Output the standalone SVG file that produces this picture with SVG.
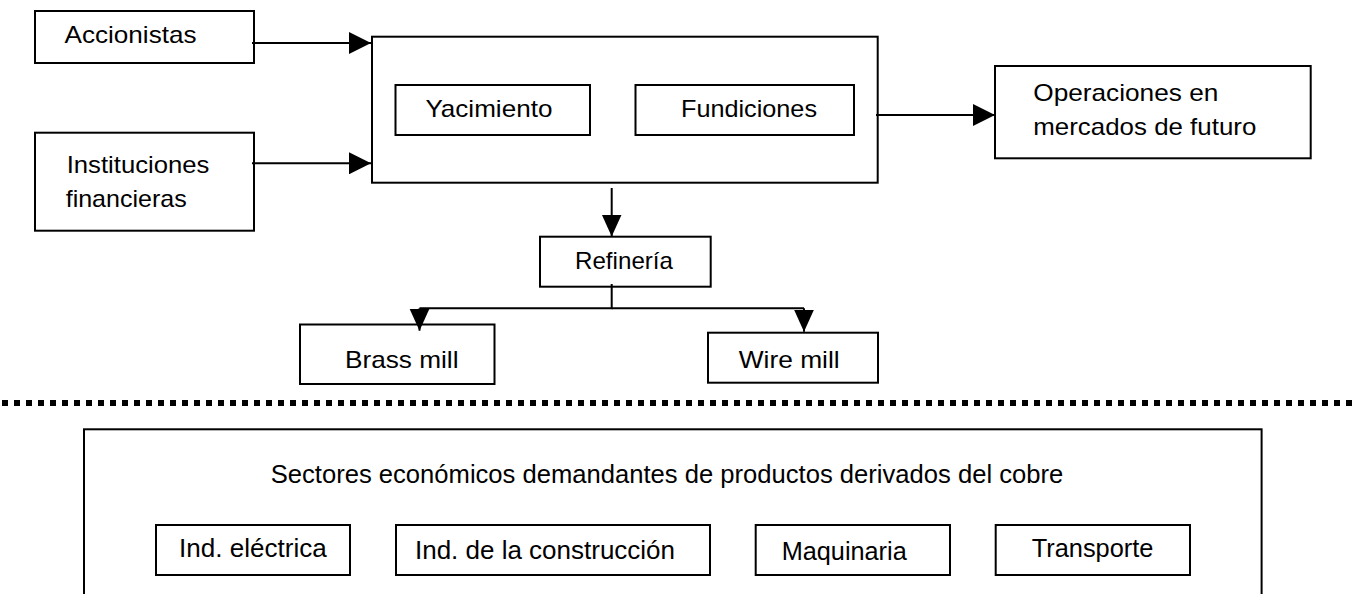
<svg xmlns="http://www.w3.org/2000/svg" width="1354" height="594" viewBox="0 0 1354 594">
<defs>
<style>
.box{fill:#fff;stroke:#000;stroke-width:2}
.t{font-family:"Liberation Sans",Arial,sans-serif;font-size:24px;fill:#000;lengthAdjust:spacingAndGlyphs}
.b{font-family:"Liberation Sans",Arial,sans-serif;font-size:25.6px;fill:#000}
.c{fill:none;stroke:#000;stroke-width:2}
.dot{fill:none;stroke:#000;stroke-width:6;stroke-dasharray:6 6}
</style>
<marker id="ah" markerUnits="userSpaceOnUse" markerWidth="22" markerHeight="22" viewBox="0 0 21 21" refX="21" refY="10.5" orient="auto">
<path d="M0,0 L21,10.5 L0,21 Z" fill="#000"/>
</marker>
<marker id="av" markerUnits="userSpaceOnUse" markerWidth="22" markerHeight="22" viewBox="0 0 21 19" refX="21" refY="9.5" orient="auto">
<path d="M0,0 L21,9.5 L0,19 Z" fill="#000"/>
</marker>
</defs>
<rect width="1354" height="594" fill="#fff"/>

<g id="accionistas">
<rect class="box" x="35" y="11" width="219" height="52"/>
<text class="t" x="64.5" y="42.5" textLength="132" lengthAdjust="spacingAndGlyphs">Accionistas</text>
</g>
<g id="instituciones">
<rect class="box" x="35" y="132.7" width="219" height="98"/>
<text class="t" x="66.7" y="172.5" textLength="142.7" lengthAdjust="spacingAndGlyphs">Instituciones</text>
<text class="t" x="65.7" y="206.5" textLength="121" lengthAdjust="spacingAndGlyphs">financieras</text>
</g>
<g id="empresa">
<rect class="box" x="372" y="36.7" width="505.7" height="146"/>
</g>
<g id="yacimiento">
<rect class="box" x="395.5" y="85" width="194.5" height="50"/>
<text class="t" x="425.4" y="116.7" textLength="127" lengthAdjust="spacingAndGlyphs">Yacimiento</text>
</g>
<g id="fundiciones">
<rect class="box" x="635.5" y="85" width="218.5" height="50"/>
<text class="t" x="681" y="116.7" textLength="136" lengthAdjust="spacingAndGlyphs">Fundiciones</text>
</g>
<g id="operaciones">
<rect class="box" x="995" y="66" width="315.7" height="92.3"/>
<text class="t" x="1033.3" y="100.7" textLength="185" lengthAdjust="spacingAndGlyphs">Operaciones en</text>
<text class="t" x="1033.3" y="135" textLength="223" lengthAdjust="spacingAndGlyphs">mercados de futuro</text>
</g>
<g id="refineria">
<rect class="box" x="540" y="236.7" width="170.7" height="50"/>
<text class="t" x="575" y="269.3" textLength="98" lengthAdjust="spacingAndGlyphs">Refinería</text>
</g>
<g id="brass">
<rect class="box" x="300" y="324.5" width="194.5" height="59.5"/>
<text class="t" x="345" y="368.3" textLength="113.5" lengthAdjust="spacingAndGlyphs">Brass mill</text>
</g>
<g id="wire">
<rect class="box" x="708" y="332.7" width="170" height="50"/>
<text class="t" x="738.7" y="368.3" textLength="101" lengthAdjust="spacingAndGlyphs">Wire mill</text>
</g>

<g id="separador">
<line class="dot" x1="2" y1="403" x2="1354" y2="403"/>
</g>

<g id="sectores">
<rect class="box" x="84" y="429.3" width="1177.6" height="200"/>
<text class="b" x="270.7" y="483.3" textLength="792.6" lengthAdjust="spacingAndGlyphs">Sectores económicos demandantes de productos derivados del cobre</text>
</g>
<g id="electrica">
<rect class="box" x="156" y="525" width="194" height="50"/>
<text class="b" x="179" y="557" textLength="147.7" lengthAdjust="spacingAndGlyphs">Ind. eléctrica</text>
</g>
<g id="construccion">
<rect class="box" x="396" y="525" width="314" height="50"/>
<text class="b" x="415" y="559" textLength="260" lengthAdjust="spacingAndGlyphs">Ind. de la construcción</text>
</g>
<g id="maquinaria">
<rect class="box" x="755.7" y="525" width="194.3" height="50"/>
<text class="b" x="781.7" y="560" textLength="125" lengthAdjust="spacingAndGlyphs">Maquinaria</text>
</g>
<g id="transporte">
<rect class="box" x="995.7" y="525" width="194.3" height="50"/>
<text class="b" x="1031.7" y="557" textLength="121.7" lengthAdjust="spacingAndGlyphs">Transporte</text>
</g>

<g id="connectors">
<path class="c" d="M252,43 H371" marker-end="url(#ah)"/>
<path class="c" d="M252,163.3 H371" marker-end="url(#ah)"/>
<path class="c" d="M876,115 H995" marker-end="url(#ah)"/>
<path class="c" d="M611.7,188 V236.5" marker-end="url(#av)"/>
<path class="c" d="M611.7,284 V308.3 H419.5"/>
<path class="c" d="M611.7,308.3 H804"/>
<path class="c" d="M419.5,308.3 V330.7" marker-end="url(#av)"/>
<path class="c" d="M804,308.3 V331.7" marker-end="url(#av)"/>
</g>
</svg>
